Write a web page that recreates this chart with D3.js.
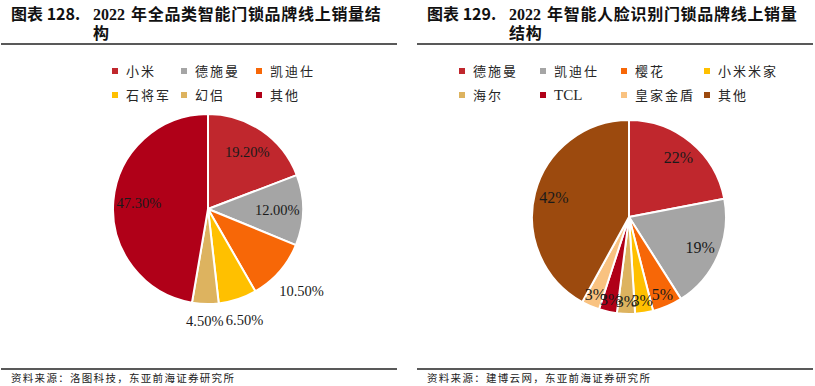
<!DOCTYPE html>
<html lang="zh">
<head>
<meta charset="UTF-8">
<title>智能门锁品牌线上销量结构</title>
<script src="https://d3js.org/d3.v7.min.js"></script>
<style>
  body { margin: 0; background: #fff; }
  .cjk { font-family: "Noto Sans CJK SC", sans-serif; }
  .serif { font-family: "Liberation Serif", "Times New Roman", serif; }
</style>
</head>
<body>
<div id="chart"></div>
<script>
// left chart: all smart door locks
const leftBrands = ["小米", "德施曼", "凯迪仕", "石将军", "幻侣", "其他"];
const leftShares = [19.2, 12.0, 10.5, 6.5, 4.5, 47.3];
const leftColors = ["#C0272D", "#A5A5A5", "#F76707", "#FFC000", "#DDB35F", "#B00018"];

// right chart: face recognition door locks
const rightBrands = ["德施曼", "凯迪仕", "樱花", "小米米家", "海尔", "TCL", "皇家金盾", "其他"];
const rightShares = [22, 19, 5, 3, 3, 3, 3, 42];
const rightColors = ["#C0272D", "#A5A5A5", "#F76707", "#FFC000", "#DDB35F", "#B00018", "#F9C280", "#9C4A0E"];

const W = 815, H = 386;
const svg = d3.select("#chart").append("svg")
  .attr("width", W).attr("height", H);

function panel(opt) {
  const g = svg.append("g").attr("transform", `translate(${opt.x0},0)`);

  // title
  g.append("text").attr("class", "cjk")
    .attr("x", 11).attr("y", 20)
    .style("font-size", "16px").style("font-weight", "bold").attr("fill", "#111")
    .text(opt.num);
  g.append("text").attr("class", "serif")
    .attr("x", 93).attr("y", 20)
    .style("font-size", "16px").style("font-weight", "bold").attr("fill", "#111")
    .text("2022");
  g.append("text").attr("class", "cjk")
    .attr("x", 131).attr("y", 20)
    .style("font-size", "16px").style("font-weight", "bold").style("letter-spacing", "0.7px").attr("fill", "#111")
    .text(opt.title1);
  g.append("text").attr("class", "cjk")
    .attr("x", 93).attr("y", 39)
    .style("font-size", "16px").style("font-weight", "bold").style("letter-spacing", "0.7px").attr("fill", "#111")
    .text(opt.title2);

  // rules
  g.append("line").attr("x1", 1).attr("x2", 397)
    .attr("y1", 44).attr("y2", 44).attr("stroke", "#222").attr("stroke-width", 1.5);
  g.append("line").attr("x1", 1).attr("x2", 397)
    .attr("y1", 369).attr("y2", 369).attr("stroke", "#222").attr("stroke-width", 1.5);

  // source
  g.append("text").attr("class", "cjk")
    .attr("x", 11).attr("y", 382)
    .style("font-size", "10.5px").style("letter-spacing", "1.3px").attr("fill", "#222")
    .text(opt.source);

  // legend
  const isLatin = d => /^[A-Za-z]+$/.test(d);
  const leg = g.selectAll(".leg").data(opt.brands).enter().append("g")
    .attr("class", "leg")
    .attr("transform", (d, i) => `translate(${opt.legCols[i % opt.legCols.length]},${i < opt.legCols.length ? 71 : 95})`);
  leg.append("rect").attr("x", 0).attr("y", -3).attr("width", 6).attr("height", 6)
    .attr("fill", (d, i) => opt.colors[i]);
  leg.append("text")
    .attr("class", d => isLatin(d) ? "serif" : "cjk")
    .attr("x", 14).attr("y", 0).attr("dy", "0.36em")
    .style("font-size", d => isLatin(d) ? "15px" : "13px")
    .style("letter-spacing", d => isLatin(d) ? "0px" : "2px")
    .attr("fill", "#262626")
    .text(d => d);

  // pie
  const pie = d3.pie().sort(null).value(d => d);
  const arcs = pie(opt.shares);
  const arc = d3.arc().innerRadius(0).outerRadius(opt.r);
  const pg = g.append("g").attr("transform", `translate(${opt.cx},${opt.cy})`);
  pg.selectAll("path").data(arcs).enter().append("path")
    .attr("d", arc)
    .attr("fill", (d, i) => opt.colors[i])
    .attr("stroke", "#fff").attr("stroke-width", 2).attr("stroke-linejoin", "round");

  pg.selectAll(".lbl").data(arcs).enter().append("text")
    .attr("class", "serif lbl")
    .attr("text-anchor", "middle").attr("dy", "0.35em")
    .style("font-size", opt.labelSize + "px").attr("fill", "#1a1a1a")
    .attr("transform", d => {
      const a = (d.startAngle + d.endAngle) / 2;
      const s = Math.sin(a), c = -Math.cos(a);
      let dist;
      if (opt.inside(d.data)) dist = opt.r * opt.inR(d.data);
      else dist = opt.r + 9 + Math.abs(s) * 21 + Math.abs(c) * 7;
      return `translate(${s * dist},${c * dist})`;
    })
    .text(d => opt.fmt(d.data));
}

panel({
  x0: 0, num: "图表 128.", title1: "年全品类智能门锁品牌线上销量结", title2: "构",
  source: "资料来源：洛图科技，东亚前海证券研究所",
  brands: leftBrands, shares: leftShares, colors: leftColors,
  legCols: [112, 181, 256],
  cx: 208, cy: 209, r: 95, labelSize: 14.5, inR: v => 0.73,
  inside: v => v >= 12,
  fmt: v => v.toFixed(2) + "%"
});

panel({
  x0: 416, num: "图表 129.", title1: "年智能人脸识别门锁品牌线上销量", title2: "结构",
  source: "资料来源：建博云网，东亚前海证券研究所",
  brands: rightBrands, shares: rightShares, colors: rightColors,
  legCols: [459, 540, 621, 704].map(x => x - 416),
  cx: 629 - 416, cy: 217, r: 97, labelSize: 16, inR: v => v <= 5 ? 0.87 : 0.8,
  inside: v => true,
  fmt: v => v + "%"
});
</script>
</body>
</html>
